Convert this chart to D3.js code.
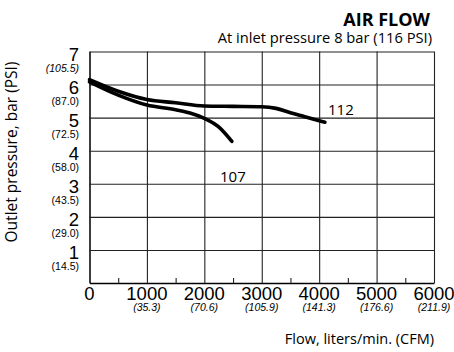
<!DOCTYPE html>
<html>
  <head>
    <meta charset="utf-8" />
    <script src="https://d3js.org/d3.v7.min.js"></script>
    <style>
      body { margin: 0; background: #fff; }
      .num { font-family: "Liberation Sans Narrow", "Liberation Sans", Arial, sans-serif; fill: #000; }
      .txt { font-family: "Open Sans", "Noto Sans", sans-serif; fill: #000; }
    </style>
  </head>
  <body>
    <div id="vis"></div>
    <script>
      // Data
      var flowTicks = [0, 1000, 2000, 3000, 4000, 5000, 6000];
      var cfmLabels = ["", "(35.3)", "(70.6)", "(105.9)", "(141.3)", "(176.6)", "(211.9)"];
      var minorTicks = [500, 1500, 2500, 3500, 4500, 5500];
      var barTicks = [1, 2, 3, 4, 5, 6, 7];
      var psiLabels = ["(14.5)", "(29.0)", "(43.5)", "(58.0)", "(72.5)", "(87.0)", "(105.5)"];

      // model 112
      var flow112 = [0, 500, 1000, 1500, 2000, 2500, 3000, 3250, 3500, 3750, 4100];
      var bar112 = [6.15, 5.8, 5.55, 5.45, 5.35, 5.34, 5.33, 5.28, 5.15, 5.03, 4.86];
      // model 107
      var flow107 = [0, 500, 1000, 1500, 1750, 2000, 2250, 2480];
      var bar107 = [6.08, 5.68, 5.38, 5.24, 5.14, 4.98, 4.72, 4.28];

      var W = 454, H = 352;
      var pLeft = 89.5, pRight = 434, pTop = 51.5, pBottom = 283;

      var svg = d3.select("#vis").append("svg")
        .attr("width", W)
        .attr("height", H);

      var x = d3.scaleLinear().domain([0, 6000]).range([pLeft, pRight]);
      var y = d3.scaleLinear().domain([0, 7]).range([pBottom, pTop]);

      // Vertical grid lines
      svg.append("g")
        .attr("transform", "translate(0," + pBottom + ")")
        .call(d3.axisBottom(x).tickValues(flowTicks).tickFormat("").tickSize(-(pBottom - pTop)).tickSizeOuter(0))
        .call(function (g) {
          g.select(".domain").attr("stroke-width", 1.4);
          g.selectAll(".tick line").attr("stroke", "#222").attr("stroke-width", 1.1);
        });

      // Horizontal grid lines
      svg.append("g")
        .attr("transform", "translate(" + pLeft + ",0)")
        .call(d3.axisLeft(y).tickValues(barTicks).tickFormat("").tickSize(-(pRight - pLeft)).tickSizeOuter(0))
        .call(function (g) {
          g.select(".domain").attr("stroke-width", 1.1);
          g.selectAll(".tick line").attr("stroke", "#222").attr("stroke-width", 1.1);
        });

      // Minor ticks on the flow axis
      svg.append("g")
        .attr("transform", "translate(0," + pBottom + ")")
        .call(d3.axisBottom(x).tickValues(minorTicks).tickFormat("").tickSize(-5).tickSizeOuter(0))
        .call(function (g) {
          g.select(".domain").remove();
          g.selectAll(".tick line").attr("stroke", "#222").attr("stroke-width", 1.1);
        });

      // X tick labels
      svg.selectAll(".xlab").data(flowTicks).enter().append("text")
        .attr("class", "num")
        .attr("x", function (d) { return x(d); })
        .attr("y", 300)
        .attr("text-anchor", "middle")
        .attr("font-size", "18.5px")
        .text(function (d) { return d; });

      svg.selectAll(".xcfm").data(flowTicks).enter().append("text")
        .attr("class", "num")
        .attr("x", function (d) { return x(d); })
        .attr("y", 310.5)
        .attr("text-anchor", "middle")
        .attr("font-size", "10.5px")
        .attr("font-style", "italic")
        .text(function (d, i) { return cfmLabels[i]; });

      // Y tick labels
      svg.selectAll(".ylab").data(barTicks).enter().append("text")
        .attr("class", "num")
        .attr("x", 79)
        .attr("y", function (d) { return y(d) + 9.5; })
        .attr("text-anchor", "end")
        .attr("font-size", "18.5px")
        .text(function (d) { return d; });

      svg.selectAll(".ypsi").data(barTicks).enter().append("text")
        .attr("class", "num")
        .attr("x", 79)
        .attr("y", function (d) { return y(d) + 20; })
        .attr("text-anchor", "end")
        .attr("font-size", "10.5px")
        .attr("font-style", function (d) { return d === 7 ? "italic" : "normal"; })
        .text(function (d, i) { return psiLabels[i]; });

      // Curves
      var line = d3.line()
        .x(function (d) { return x(d[0]); })
        .y(function (d) { return y(d[1]); })
        .curve(d3.curveMonotoneX);

      [[flow112, bar112], [flow107, bar107]].forEach(function (s) {
        svg.append("path")
          .datum(d3.zip(s[0], s[1]))
          .attr("d", line)
          .attr("fill", "none")
          .attr("stroke", "#000")
          .attr("stroke-width", 3.6)
          .attr("stroke-linecap", "round");
      });

      svg.append("text").attr("class", "txt")
        .attr("x", 328).attr("y", 115)
        .attr("font-size", "15px")
        .text("112");
      svg.append("text").attr("class", "txt")
        .attr("x", 220).attr("y", 181.5)
        .attr("font-size", "15px")
        .text("107");

      // Titles
      svg.append("text").attr("class", "txt")
        .attr("x", 430).attr("y", 25.5)
        .attr("text-anchor", "end")
        .attr("font-size", "18px")
        .attr("font-weight", "bold")
        .text("AIR FLOW");
      svg.append("text").attr("class", "txt")
        .attr("x", 432).attr("y", 42.5)
        .attr("text-anchor", "end")
        .attr("font-size", "14.7px")
        .text("At inlet pressure 8 bar (116 PSI)");

      svg.append("text").attr("class", "txt")
        .attr("x", 434).attr("y", 344)
        .attr("text-anchor", "end")
        .attr("font-size", "14.5px")
        .text("Flow, liters/min. (CFM)");

      svg.append("text").attr("class", "txt")
        .attr("transform", "translate(17,152) rotate(-90)")
        .attr("text-anchor", "middle")
        .attr("font-size", "15.5px")
        .text("Outlet pressure, bar (PSI)");
    </script>
  </body>
</html>
